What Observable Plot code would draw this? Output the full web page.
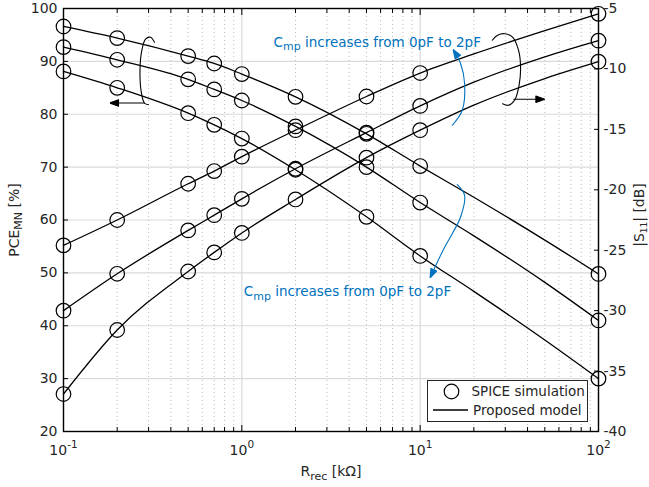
<!DOCTYPE html>
<html>
<head>
<meta charset="utf-8">
<script src="https://cdn.jsdelivr.net/npm/d3@7"></script>
<script src="https://cdn.jsdelivr.net/npm/@observablehq/plot@0.6"></script>
<style>
  html, body { margin: 0; padding: 0; background: #fff; }
  #chart { width: 649px; height: 487px; }
</style>
</head>
<body>
<div id="chart"></div>
<script>
// Load resistance R_rec [kΩ] of the SPICE sweep
const rrecSpice = [0.1, 0.2, 0.5, 0.7, 1, 2, 5, 10, 100];
// Power conversion efficiency of the matching network [%], Cmp = 0 / 1 / 2 pF
const pceSpice0 = [96.6, 94.4, 91.0, 89.6, 87.6, 83.3, 76.3, 70.2, 49.8];
const pceSpice1 = [92.7, 90.3, 86.6, 84.7, 82.6, 77.7, 70.0, 63.3, 41.0];
const pceSpice2 = [88.1, 85.0, 80.2, 78.0, 75.4, 69.5, 60.6, 53.2, 30.0];
// Input reflection |S11| [dB], Cmp = 0 / 1 / 2 pF
const s11Spice0 = [-36.9, -31.6, -26.76, -25.18, -23.57, -20.8, -17.34, -15.07, -9.4];
const s11Spice1 = [-30.0, -26.95, -23.36, -22.1, -20.75, -18.26, -15.27, -13.06, -7.66];
const s11Spice2 = [-24.6, -22.5, -19.5, -18.45, -17.26, -15.07, -12.28, -10.34, -5.44];

// Proposed analytical model, evaluated on a finer R_rec grid
const rrecModel = [0.1, 0.2, 0.5, 0.7, 1, 2, 5, 10, 20, 50, 100];
const pceModel0 = [96.6, 94.4, 91.0, 89.6, 87.6, 83.3, 76.3, 70.2, 64.3, 56.2, 49.8];
const pceModel1 = [92.7, 90.3, 86.6, 84.7, 82.6, 77.7, 70.0, 63.3, 57.0, 48.2, 41.0];
const pceModel2 = [88.1, 85.0, 80.2, 78.0, 75.4, 69.5, 60.6, 53.2, 46.5, 37.3, 30.0];
const s11Model0 = [-36.9, -31.6, -26.76, -25.18, -23.57, -20.8, -17.34, -15.07, -13.0, -10.8, -9.4];
const s11Model1 = [-30.0, -26.95, -23.36, -22.1, -20.75, -18.26, -15.27, -13.06, -11.1, -9.0, -7.66];
const s11Model2 = [-24.6, -22.5, -19.5, -18.45, -17.26, -15.07, -12.28, -10.34, -8.76, -6.83, -5.44];

// Axis ticks and labels
const xMajor = [0.1, 1, 10, 100];
const xTickLabels = ["10^{-1}", "10^{0}", "10^{1}", "10^{2}"];
const pceTicks = [20, 30, 40, 50, 60, 70, 80, 90, 100];
const s11Ticks = [-40, -35, -30, -25, -20, -15, -10, -5];
const s11TickLabels = ["-40", "-35", "-30", "-25", "-20", "-15", "-10", "-5"];

// Annotation paths (x in kΩ, y in PCE units)
const bracketLeftX = [0.3239, 0.3075, 0.2883, 0.2738, 0.2685, 0.2720, 0.2846, 0.2997];
const bracketLeftY = [93.62, 94.57, 94.19, 91.73, 88.32, 84.54, 82.08, 81.79];
const arrowLeftX = [0.2846, 0.1835];
const arrowLeftY = [82.13, 82.13];
const bracketRightX = [25.37, 27.17, 29.73, 32.96, 35.6, 36.56, 35.86, 33.83, 31.31, 28.98];
const bracketRightY = [94.0, 94.95, 95.23, 94.57, 92.11, 88.89, 85.48, 82.65, 81.70, 81.98];
const arrowRightX = [33.5, 49.4];
const arrowRightY = [82.84, 82.84];
const sweepUpX = [15.14, 17.22, 17.75, 16.85, 15.39];
const sweepUpY = [77.92, 80.76, 85.81, 89.59, 92.11];
const sweepDownX = [16.15, 17.75, 16.85, 15.14, 13.58, 11.43];
const sweepDownY = [66.69, 64.67, 60.56, 57.42, 54.58, 49.21];
const noteText = "C_{mp} increases from 0pF to 2pF";
const noteX = [1.506, 1.026];
const noteY = [93.62, 46.4];

// |S11| lives on the right axis: [-40, -5] dB maps onto the PCE range [20, 100]
const s11ToY = s => 20 + (s + 40) * 80 / 35;

const blue = "#0072BD";
const ink = "#262626";

// Minor log ticks between decades
const xMinor = [];
for (const d of [0.1, 1, 10]) for (let k = 2; k <= 9; ++k) xMinor.push(+(k * d).toPrecision(3));

const series = (xs, ys, key) => xs.map((x, i) => ({x, y: ys[i], key}));
const pceSpice = [pceSpice0, pceSpice1, pceSpice2].flatMap((ys, k) => series(rrecSpice, ys, "p" + k));
const s11Spice = [s11Spice0, s11Spice1, s11Spice2].flatMap((ys, k) => series(rrecSpice, ys.map(s11ToY), "s" + k));
const pceModel = [pceModel0, pceModel1, pceModel2].flatMap((ys, k) => series(rrecModel, ys, "p" + k));
const s11Model = [s11Model0, s11Model1, s11Model2].flatMap((ys, k) => series(rrecModel, ys.map(s11ToY), "s" + k));

// Filled arrowhead marker for annotation arrows
function headMarker(color) {
  return d3.create("svg:marker")
    .attr("viewBox", "-9 -4 10 8")
    .attr("markerWidth", 10)
    .attr("markerHeight", 8)
    .attr("markerUnits", "userSpaceOnUse")
    .attr("orient", "auto")
    .attr("refX", 0)
    .attr("refY", 0)
    .call(m => m.append("path").attr("d", "M-8,-3.2L1,0L-8,3.2Z").attr("fill", color))
    .node();
}

const plot = Plot.plot({
  width: 649,
  height: 487,
  marginLeft: 63,
  marginRight: 51,
  marginTop: 8,
  marginBottom: 56,
  style: {fontFamily: "DejaVu Sans, sans-serif", fontSize: "14px", color: ink, background: "#fff", overflow: "visible"},
  x: {type: "log", domain: [0.1, 100]},
  y: {domain: [20, 100]},
  marks: [
    // grid
    Plot.ruleX(xMinor, {stroke: "#bdbdbd", strokeDasharray: "1,3", strokeWidth: 1}),
    Plot.ruleX(xMajor, {stroke: "#dadada", strokeWidth: 1.2}),
    Plot.ruleY(pceTicks, {stroke: "#dadada", strokeWidth: 1.2}),

    // model curves
    Plot.line(pceModel, {x: "x", y: "y", z: "key", curve: "monotone-x", stroke: "#000", strokeWidth: 1.3}),
    Plot.line(s11Model, {x: "x", y: "y", z: "key", curve: "monotone-x", stroke: "#000", strokeWidth: 1.3}),

    // SPICE points
    Plot.dot(pceSpice, {x: "x", y: "y", r: 7.3, stroke: "#000", strokeWidth: 1.2, fill: "none"}),
    Plot.dot(s11Spice, {x: "x", y: "y", r: 7.3, stroke: "#000", strokeWidth: 1.2, fill: "none"}),

    // brackets with direction arrows (left: PCE axis, right: |S11| axis)
    Plot.line(bracketLeftX, {x: d => d, y: (d, i) => bracketLeftY[i], curve: "catmull-rom", stroke: "#000", strokeWidth: 1.1}),
    Plot.line(arrowLeftX, {x: d => d, y: (d, i) => arrowLeftY[i], stroke: "#000", strokeWidth: 1.1, markerEnd: headMarker}),
    Plot.line(bracketRightX, {x: d => d, y: (d, i) => bracketRightY[i], curve: "catmull-rom", stroke: "#000", strokeWidth: 1.1}),
    Plot.line(arrowRightX, {x: d => d, y: (d, i) => arrowRightY[i], stroke: "#000", strokeWidth: 1.1, markerEnd: headMarker}),

    // Cmp sweep arrows
    Plot.line(sweepUpX, {x: d => d, y: (d, i) => sweepUpY[i], curve: "catmull-rom", stroke: blue, strokeWidth: 1.1, markerEnd: headMarker}),
    Plot.line(sweepDownX, {x: d => d, y: (d, i) => sweepDownY[i], curve: "catmull-rom", stroke: blue, strokeWidth: 1.1, markerEnd: headMarker}),
    Plot.text(noteX, {x: d => d, y: (d, i) => noteY[i], text: () => noteText, textAnchor: "start", lineAnchor: "middle", fill: blue, fontSize: 13.5}),

    // axes
    Plot.frame({stroke: "#000", strokeWidth: 1.4}),
    Plot.axisX(xMinor, {anchor: "bottom", tickSize: -4, tickFormat: () => "", label: null, stroke: "#000"}),
    Plot.axisX(xMinor, {anchor: "top", tickSize: -4, tickFormat: () => "", label: null, stroke: "#000"}),
    Plot.axisX(xMajor, {anchor: "bottom", tickSize: -6, tickFormat: () => "", label: null, stroke: "#000"}),
    Plot.axisX(xMajor, {anchor: "top", tickSize: -6, tickFormat: () => "", label: null, stroke: "#000"}),
    Plot.text(xMajor, {x: d => d, frameAnchor: "bottom", dy: 19.5, textAnchor: "middle", lineAnchor: "middle", text: (d, i) => xTickLabels[i], fill: ink, fontSize: 14}),
    Plot.axisY(pceTicks, {anchor: "left", tickSize: -5, tickPadding: 11, label: null, stroke: "#000", fill: ink}),
    Plot.axisY(s11Ticks.map(s11ToY), {anchor: "right", tickSize: -5, tickPadding: 10, tickFormat: (d, i) => s11TickLabels[i], label: null, stroke: "#000", fill: ink}),

    // axis titles
    Plot.text(["PCE_{MN} [%]"], {frameAnchor: "left", dx: -49, rotate: -90, textAnchor: "middle", lineAnchor: "middle", fill: ink, fontSize: 14}),
    Plot.text(["|S_{11}| [dB]"], {frameAnchor: "right", dx: 41, dy: -5, rotate: -90, textAnchor: "middle", lineAnchor: "middle", fill: ink, fontSize: 14}),
    Plot.text(["R_{rec} [kΩ]"], {frameAnchor: "bottom", dy: 40.5, textAnchor: "middle", lineAnchor: "middle", fill: ink, fontSize: 14})
  ]
});

// Turn _{…} and ^{…} into sub/superscript tspans
const NS = "http://www.w3.org/2000/svg";
function richText(t) {
  const s = t.textContent;
  if (!/[_^]\{/.test(s)) return;
  t.textContent = "";
  const re = /([_^])\{([^}]*)\}|([^_^]+)/g;
  let m, off = 0;
  while ((m = re.exec(s))) {
    const ts = document.createElementNS(NS, "tspan");
    if (m[3] !== undefined) {
      ts.textContent = m[3];
      if (off) ts.setAttribute("dy", -off);
      off = 0;
    } else {
      const sub = m[1] === "_";
      const shift = sub ? 3.5 : -7;
      ts.textContent = m[2];
      ts.setAttribute("dy", shift - off);
      ts.setAttribute("font-size", sub ? (m[2] === "11" ? 9 : 11) : 10.5);
      off = shift;
    }
    t.appendChild(ts);
  }
}
plot.querySelectorAll("text").forEach(richText);

// Legend
const lg = d3.select(plot).append("g")
  .attr("font-family", "DejaVu Sans, sans-serif").attr("font-size", 13.5)
  .attr("fill", ink).attr("text-anchor", "start");
lg.append("rect").attr("x", 427.5).attr("y", 380.5).attr("width", 160).attr("height", 41)
  .attr("fill", "#fff").attr("stroke", ink).attr("stroke-width", 1);
lg.append("circle").attr("cx", 451.5).attr("cy", 391.5).attr("r", 7.3)
  .attr("fill", "none").attr("stroke", "#000").attr("stroke-width", 1.2);
lg.append("text").attr("x", 471.5).attr("y", 391.5).attr("dy", "0.35em").text("SPICE simulation");
lg.append("line").attr("x1", 433).attr("x2", 468).attr("y1", 410).attr("y2", 410)
  .attr("stroke", "#000").attr("stroke-width", 1.3);
lg.append("text").attr("x", 473).attr("y", 410).attr("dy", "0.35em").text("Proposed model");

document.getElementById("chart").appendChild(plot);
</script>
</body>
</html>
